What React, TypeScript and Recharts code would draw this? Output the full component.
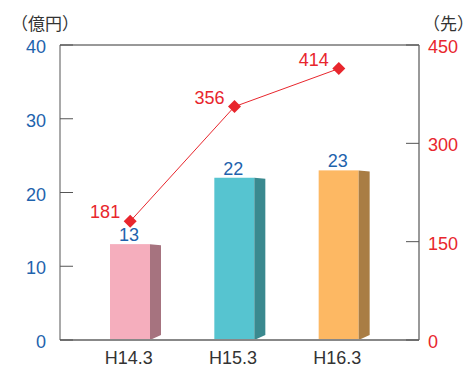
import React from 'react';
import { ComposedChart, Bar, Line, XAxis, YAxis, ReferenceLine, LabelList } from 'recharts';

const categories = ['H14.3', 'H15.3', 'H16.3'];
const amounts = [13, 22, 23];
const counts = [181, 356, 414];
const leftTicks = [0, 10, 20, 30, 40];
const rightTicks = [0, 150, 300, 450];

const data = categories.map((name, i) => ({ name, amount: amounts[i], count: counts[i] }));

const FRONT = ['#F5AEBD', '#56C4D0', '#FDB863'];
const SIDE = ['#A6737F', '#3A898F', '#A97D44'];
const BLUE = '#1E63AD';
const RED = '#E8262D';
const FONT = '"Liberation Sans", Arial, sans-serif';

const Bar3D = (props: any) => {
  const { x, y, width, height, payload } = props;
  const i = Math.max(0, categories.indexOf(payload?.name));
  const d = 11;
  const r = x + width;
  const b = y + height;
  return (
    <g>
      <rect x={x} y={y} width={width} height={height} fill={FRONT[i]} />
      <polygon points={`${r},${y} ${r + d},${y + 1} ${r + d},${b - 5} ${r},${b}`} fill={SIDE[i]} />
    </g>
  );
};

const Diamond = (props: any) => {
  const { cx, cy, index } = props;
  const s = 6.5;
  return <polygon key={`d${index}`} points={`${cx},${cy - s} ${cx + s},${cy} ${cx},${cy + s} ${cx - s},${cy}`} fill={RED} />;
};

const LeftTick = (props: any) => {
  const { x, y, payload } = props;
  return (
    <g>
      <line x1={x + 14} x2={x + 27} y1={y} y2={y} stroke="#555" strokeWidth={1} />
      <text x={x} y={y} dy={8} textAnchor="end" fill={BLUE} fontSize={18} fontFamily={FONT}>{payload.value}</text>
    </g>
  );
};

const RightTick = (props: any) => {
  const { x, y, payload } = props;
  return (
    <g>
      <line x1={x - 9} x2={x - 22} y1={y} y2={y} stroke="#555" strokeWidth={1} />
      <text x={x} y={y} dy={8} textAnchor="start" fill={RED} fontSize={18} fontFamily={FONT}>{payload.value}</text>
    </g>
  );
};

const XTick = (props: any) => {
  const { x, y, payload } = props;
  return (
    <text x={x - 1.5} y={y} dy={24} textAnchor="middle" fill="#333" fontSize={18} fontFamily={FONT}>{payload.value}</text>
  );
};

const BarLabel = (props: any) => {
  const { x, y, width, value } = props;
  return (
    <text x={x + width / 2 - 1} y={y - 3} textAnchor="middle" fill={BLUE} fontSize={18} fontFamily={FONT}>{value}</text>
  );
};

const LineLabel = (props: any) => {
  const { x, y, value } = props;
  return (
    <text x={x - 10} y={y - 3} textAnchor="end" fill={RED} fontSize={18} fontFamily={FONT}>{value}</text>
  );
};

const unitStyle: React.CSSProperties = {
  position: 'absolute',
  fontFamily: '"Noto Sans CJK JP", sans-serif',
  fontSize: 17,
  lineHeight: '18px',
  color: '#333',
  whiteSpace: 'nowrap',
};

export default function App() {
  return (
    <div style={{ position: 'absolute', left: 0, top: 0, width: 476, height: 367, background: '#fff' }}>
      <div style={{ ...unitStyle, left: 11, top: 14 }}>（億円）</div>
      <div style={{ ...unitStyle, left: 423, top: 14 }}>（先）</div>
      <ComposedChart width={476} height={367} data={data} margin={{ top: 45, right: 0, bottom: 0, left: 0 }}>
        <XAxis
          dataKey="name"
          height={27}
          padding={{ left: 18, right: 28 }}
          axisLine={{ stroke: '#888', strokeWidth: 2 }}
          tickLine={false}
          tickSize={0}
          tickMargin={0}
          tick={<XTick />}
          interval={0}
        />
        <YAxis
          yAxisId="left"
          width={60}
          domain={[0, 40]}
          ticks={leftTicks}
          axisLine={{ stroke: '#555', strokeWidth: 1 }}
          tickLine={false}
          tickSize={0}
          tickMargin={14}
          tick={<LeftTick />}
          interval={0}
        />
        <YAxis
          yAxisId="right"
          orientation="right"
          width={57}
          domain={[0, 450]}
          ticks={rightTicks}
          axisLine={{ stroke: '#777', strokeWidth: 1.5 }}
          tickLine={false}
          tickSize={0}
          tickMargin={9}
          tick={<RightTick />}
          interval={0}
        />
        <ReferenceLine yAxisId="left" y={40} stroke="#333" strokeWidth={1} />
        <Bar yAxisId="left" dataKey="amount" barSize={40} shape={<Bar3D />} isAnimationActive={false}>
          <LabelList dataKey="amount" content={<BarLabel />} />
        </Bar>
        <Line
          yAxisId="right"
          dataKey="count"
          stroke={RED}
          strokeWidth={1}
          dot={<Diamond />}
          activeDot={false}
          isAnimationActive={false}
        >
          <LabelList dataKey="count" content={<LineLabel />} />
        </Line>
      </ComposedChart>
    </div>
  );
}
